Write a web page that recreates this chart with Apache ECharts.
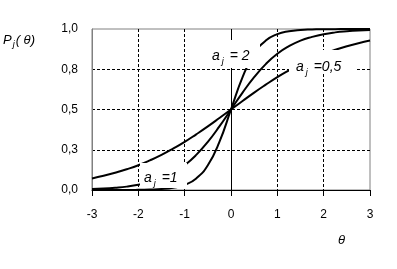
<!DOCTYPE html>
<html><head><meta charset="utf-8">
<script src="https://cdn.jsdelivr.net/npm/echarts/dist/echarts.min.js"></script>
<style>html,body{margin:0;padding:0;background:#fff}#c{width:397px;height:269px}</style>
</head><body><div id="c"></div>
<script>
const theta = [-3,-2.75,-2.5,-2.25,-2,-1.75,-1.5,-1.25,-1,-0.75,-0.5,-0.25,0,0.25,0.5,0.75,1,1.25,1.5,1.75,2,2.25,2.5,2.75,3];
const pA05 = [0.072,0.088,0.107,0.129,0.154,0.184,0.218,0.257,0.299,0.346,0.395,0.447,0.5,0.553,0.605,0.654,0.701,0.743,0.782,0.816,0.846,0.871,0.893,0.912,0.928];
const pA1 = [0.006,0.009,0.014,0.021,0.032,0.049,0.072,0.107,0.154,0.218,0.299,0.395,0.5,0.605,0.701,0.782,0.846,0.893,0.928,0.951,0.968,0.979,0.986,0.991,0.994];
const pA2 = [0.000,0.000,0.000,0.000,0.001,0.003,0.006,0.014,0.032,0.072,0.154,0.299,0.5,0.701,0.846,0.928,0.968,0.986,0.994,0.997,0.999,0.999,1.0,1.0,1.0];
const xTickLabels = ['-3','-2','-1','0','1','2','3'];
const yTickLabels = ['0,0','0,3','0,5','0,8','1,0'];
const seriesNames = ['a=0,5','a=1','a=2'];

const chart = echarts.init(document.getElementById('c'), null, {renderer:'canvas'});
const font = 'Arial, "Liberation Sans", sans-serif';
function pts(arr){ return theta.map((t,i)=>[t, arr[i]]); }
function curve(name, arr){
  return {name, type:'line', data:pts(arr), smooth:true,
    showSymbol:false, symbol:'none', lineStyle:{color:'#000', width:2}, z:3, silent:true};
}
const richLbl = {a:{fontFamily:font,fontSize:14,fontStyle:'italic'}, s:{fontFamily:font,fontSize:9,fontStyle:'italic',padding:[10,2,0,2]}, t:{fontFamily:font,fontSize:14,fontStyle:'italic'}};
const richAx = {a:{fontFamily:font,fontSize:13,fontStyle:'italic'}, s:{fontFamily:font,fontSize:9,fontStyle:'italic',padding:[9,1,0,1]}, t:{fontFamily:font,fontSize:13,fontStyle:'italic'}};
const labelBox = (x,y,w,h,rich,tx,ty)=>({type:'group', z:100, children:[
  {type:'rect', shape:{x:x,y:y,width:w,height:h}, style:{fill:'#fff'}, z:100},
  {type:'text', x:tx, y:ty, z:101, style:{text:rich, fontFamily:font, fontSize:14, fontStyle:'italic', fill:'#000',
    rich:richLbl, verticalAlign:'middle'}}
]});

chart.setOption({
  animation:false,
  backgroundColor:'#fff',
  grid:{left:92, top:29, right:27, bottom:79, show:true, borderColor:'#808080', borderWidth:1, backgroundColor:'#fff'},
  xAxis:{type:'value', min:-3, max:3, interval:1,
    axisLine:{onZero:false, lineStyle:{color:'#000', width:1}},
    axisTick:{show:true, inside:false, length:6, lineStyle:{color:'#000'}},
    axisLabel:{color:'#000', fontFamily:font, fontSize:12, margin:19,
      formatter:(v)=>xTickLabels[Math.round(v+3)]},
    splitLine:{show:true, showMinLine:false, showMaxLine:false, lineStyle:{color:'#000', type:[3,2], width:1}}
  },
  yAxis:{type:'value', min:0, max:1, interval:0.25,
    axisLine:{show:true, onZero:false, lineStyle:{color:'#808080'}},
    axisTick:{show:false},
    axisLabel:{color:'#000', fontFamily:font, fontSize:12, margin:14,
      formatter:(v)=>yTickLabels[Math.round(v/0.25)]},
    splitLine:{show:true, showMinLine:false, showMaxLine:false, lineStyle:{color:'#000', type:[3,2], width:1}}
  },
  series:[
    curve(seriesNames[0], pA05),
    curve(seriesNames[1], pA1),
    curve(seriesNames[2], pA2),
    {type:'line', data:[], z:2, silent:true,
      markLine:{silent:true, symbol:['none','none'], label:{show:false},
        lineStyle:{color:'#000', type:'solid', width:1}, data:[{xAxis:0}]}}
  ],
  graphic:[
    labelBox(210,40,50,28,'{a|a}{s|j}{t| = 2}',212,56),
    labelBox(289,50,67,23,'{a|a}{s|j}{t| =0,5}',296,67),
    labelBox(140,163,47,25,'{a|a}{s|j}{t| =1}',144,178),
    {type:'text', x:3, y:40, z:101, style:{text:'{a|P}{s|j}{t|( θ)}', fontFamily:font, fontSize:13, fontStyle:'italic', fill:'#000',
      rich:richAx, verticalAlign:'middle'}},
    {type:'text', x:338, y:240, z:101, style:{text:'θ', fontFamily:font, fontSize:13, fontStyle:'italic', fill:'#000', verticalAlign:'middle'}}
  ]
});
</script></body></html>
